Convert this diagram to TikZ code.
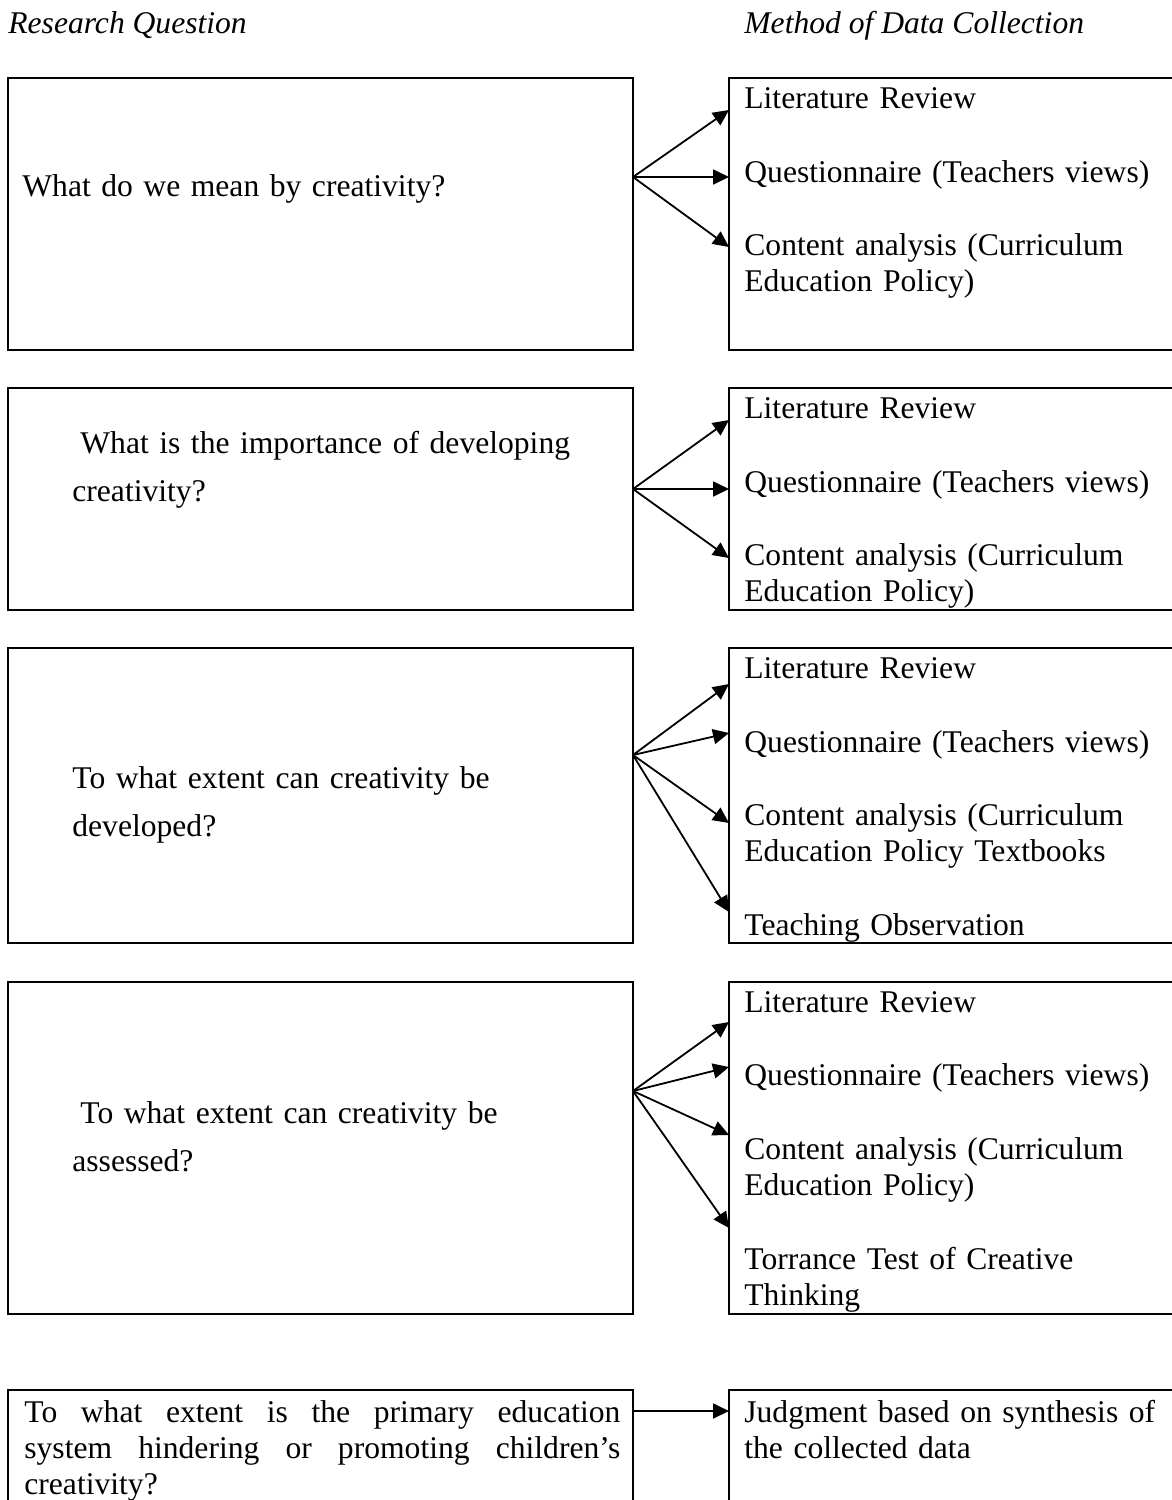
\documentclass[tikz,border=0pt]{standalone}
\usepackage{fontspec}
\setmainfont{Liberation Serif}
\usetikzlibrary{arrows.meta}
\tikzset{
  frame/.style={draw, line width=1pt},
  item/.style={anchor=base west, inner sep=0pt, text width=215pt, align=left, font=\fontsize{15.8pt}{18pt}\selectfont},
  quest/.style={anchor=base west, inner sep=0pt, text width=290pt, align=left, font=\fontsize{15.8pt}{24pt}\selectfont},
  head/.style={anchor=base west, inner sep=0pt, font=\fontsize{15.8pt}{18pt}\selectfont\itshape},
  arr/.style={draw, -{Triangle[length=8pt,width=7.5pt]}, line width=0.9pt},
}
\begin{document}
\begin{tikzpicture}[x=0.5pt, y=-0.5pt]
    \useasboundingbox (0,0) rectangle (1172,1500);
    \clip (0,0) rectangle (1172,1500);

    % headings
    \node[head] (hq) at (8,33) {Research Question};
    \node[head] (hm) at (744,33) {Method of Data Collection};

    % question 1
    \draw[frame] (8,78) rectangle (633,350);
    \draw[frame] (729,78) rectangle (1190,350);
    \node[quest] (q1) at (22,196) {What do we mean by creativity?};
    \node[item] (m1a) at (744,108) {Literature Review};
    \node[item] (m1b) at (744,182) {Questionnaire (Teachers views)};
    \node[item] (m1c) at (744,255) {Content analysis (Curriculum\\Education Policy)};
    \coordinate (s1) at (633,177);
    \coordinate (t1a) at (729,110);
    \coordinate (t1b) at (729,177);
    \coordinate (t1c) at (729,247);
    \path (s1) edge[arr] (t1a) edge[arr] (t1b) edge[arr] (t1c);

    % question 2
    \draw[frame] (8,388) rectangle (633,610);
    \draw[frame] (729,388) rectangle (1190,610);
    \node[quest] (q2) at (72,453) {\hspace*{4pt}What is the importance of developing\\creativity?};
    \node[item] (m2a) at (744,418) {Literature Review};
    \node[item] (m2b) at (744,492) {Questionnaire (Teachers views)};
    \node[item] (m2c) at (744,565) {Content analysis (Curriculum\\Education Policy)};
    \coordinate (s2) at (633,489);
    \coordinate (t2a) at (729,420);
    \coordinate (t2b) at (729,489);
    \coordinate (t2c) at (729,558);
    \path (s2) edge[arr] (t2a) edge[arr] (t2b) edge[arr] (t2c);

    % question 3
    \draw[frame] (8,648) rectangle (633,943);
    \draw[frame] (729,648) rectangle (1190,943);
    \node[quest] (q3) at (72,788) {To what extent can creativity be\\developed?};
    \node[item] (m3a) at (744,678) {Literature Review};
    \node[item] (m3b) at (744,752) {Questionnaire (Teachers views)};
    \node[item] (m3c) at (744,825) {Content analysis (Curriculum\\Education Policy Textbooks};
    \node[item] (m3d) at (744,935) {Teaching Observation};
    \coordinate (s3) at (633,755);
    \coordinate (t3a) at (729,684);
    \coordinate (t3b) at (729,733);
    \coordinate (t3c) at (729,823);
    \coordinate (t3d) at (729,912);
    \path (s3) edge[arr] (t3a) edge[arr] (t3b) edge[arr] (t3c) edge[arr] (t3d);

    % question 4
    \draw[frame] (8,982) rectangle (633,1314);
    \draw[frame] (729,982) rectangle (1190,1314);
    \node[quest] (q4) at (72,1123) {\hspace*{4pt}To what extent can creativity be\\assessed?};
    \node[item] (m4a) at (744,1012) {Literature Review};
    \node[item] (m4b) at (744,1085) {Questionnaire (Teachers views)};
    \node[item] (m4c) at (744,1159) {Content analysis (Curriculum\\Education Policy)};
    \node[item] (m4d) at (744,1269) {Torrance Test of Creative\\Thinking};
    \coordinate (s4) at (633,1091);
    \coordinate (t4a) at (729,1022);
    \coordinate (t4b) at (729,1067);
    \coordinate (t4c) at (729,1135);
    \coordinate (t4d) at (729,1228);
    \path (s4) edge[arr] (t4a) edge[arr] (t4b) edge[arr] (t4c) edge[arr] (t4d);

    % question 5
    \draw[frame] (8,1390) rectangle (633,1530);
    \draw[frame] (729,1390) rectangle (1190,1530);
    \node[quest, text width=298pt, align=justify, font=\fontsize{15.8pt}{18pt}\selectfont] (q5) at (24,1422)
      {To what extent is the primary education\linebreak system hindering or promoting children’s\linebreak creativity?};
    \node[item] (m5a) at (744,1422) {Judgment based on synthesis of\\the collected data};
    \coordinate (s5) at (633,1411);
    \coordinate (t5a) at (729,1411);
    \path (s5) edge[arr] (t5a);
\end{tikzpicture}
\end{document}
